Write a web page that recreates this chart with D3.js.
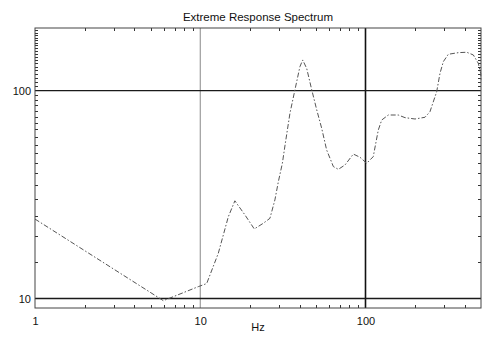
<!DOCTYPE html>
<html>
<head>
<meta charset="utf-8">
<script src="https://cdn.jsdelivr.net/npm/d3@7"></script>
<style>
  html, body { margin: 0; padding: 0; background: #fff; }
  svg { display: block; }
  text { font-family: "Liberation Sans", Arial, sans-serif; fill: #111; }
</style>
</head>
<body>
<svg id="chart" width="483" height="343"></svg>
<script>
// Extreme response spectrum: frequency (Hz) vs response, log-log axes
const freqHz = [1, 5.98, 9.73, 10.94, 11.45, 12.86, 13.79, 14.78, 16.2, 18.66, 21.23, 24.07, 26.4, 28.3, 29.7, 31.4, 32.6, 34.9, 37.4, 40.1, 41.7, 44.1, 47.3, 50.7, 54.3, 58.2, 63.9, 68.5, 75.2, 84.4, 92.6, 101.6, 111.4, 119.5, 125.4, 137.4, 157.9, 173.4, 199.3, 229, 245.5, 269.7, 282.4, 295.7, 317, 364.5, 409.8, 449.2, 481.6, 497.7, 500];
const response = [24.1, 9.76, 11.4, 11.8, 12.97, 16.5, 20.2, 24.7, 29.5, 25.2, 21.6, 23.0, 24.3, 29.8, 36.5, 44.7, 54.7, 77.8, 100.7, 130.3, 140.4, 127.6, 100.7, 80.7, 65.9, 51.8, 43.1, 41.8, 43.9, 49.5, 47.8, 44.7, 48.1, 64.6, 72.2, 76.3, 76.3, 74.1, 73.0, 74.4, 79.1, 98.8, 121.1, 137.7, 149.5, 152.2, 152.9, 148.4, 135.3, 121.1, 113];

const xTickValues = [1, 10, 100];
const xTickLabels = ["1", "10", "100"];
const yTickValues = [10, 100];
const yTickLabels = ["10", "100"];
const xDomain = [1, 500];
const yDomain = [9, 200];
const chartTitle = "Extreme Response Spectrum";
const xAxisTitle = "Hz";

const svg = d3.select("#chart");
const plotLeft = 35, plotRight = 481, plotTop = 28, plotBottom = 308;

const x = d3.scaleLog().domain(xDomain).range([plotLeft, plotRight]);
const y = d3.scaleLog().domain(yDomain).range([plotBottom, plotTop]);

// minor ticks (inside the frame on all four sides)
const xMinor = x.ticks(30).filter(v => !xTickValues.includes(v) && v > xDomain[0] && v < xDomain[1]);
const yMinor = y.ticks(30).filter(v => !yTickValues.includes(v) && v > yDomain[0] && v < yDomain[1]);
const tickLen = 3;
const minor = svg.append("g").attr("stroke", "#333").attr("stroke-width", 1);
xMinor.forEach(v => {
  const px = Math.round(x(v)) + 0.5;
  minor.append("line").attr("x1", px).attr("x2", px).attr("y1", plotBottom).attr("y2", plotBottom - tickLen);
  minor.append("line").attr("x1", px).attr("x2", px).attr("y1", plotTop).attr("y2", plotTop + tickLen);
});
yMinor.forEach(v => {
  const py = Math.round(y(v)) + 0.5;
  minor.append("line").attr("x1", plotLeft).attr("x2", plotLeft + tickLen).attr("y1", py).attr("y2", py);
  minor.append("line").attr("x1", plotRight).attr("x2", plotRight - tickLen).attr("y1", py).attr("y2", py);
});

// decade grid lines
const grid = svg.append("g");
xTickValues.forEach(v => {
  if (v === xDomain[0]) return;
  grid.append("line")
    .attr("x1", x(v)).attr("x2", x(v)).attr("y1", plotTop).attr("y2", plotBottom)
    .attr("stroke", v === 100 ? "#111" : "#888")
    .attr("stroke-width", v === 100 ? 1.6 : 1);
});
yTickValues.forEach(v => {
  grid.append("line")
    .attr("x1", plotLeft).attr("x2", plotRight).attr("y1", y(v)).attr("y2", y(v))
    .attr("stroke", "#1a1a1a").attr("stroke-width", 1.4);
});

// frame
svg.append("rect")
  .attr("x", plotLeft).attr("y", plotTop).attr("width", plotRight - plotLeft).attr("height", plotBottom - plotTop)
  .attr("fill", "none").attr("stroke", "#444").attr("stroke-width", 1);

// tick labels via d3 axes (labels only, no tick lines)
const xAxis = d3.axisBottom(x).tickValues(xTickValues)
  .tickFormat((d, i) => xTickLabels[i]).tickSize(0).tickPadding(9);
svg.append("g").attr("transform", `translate(0,${plotBottom})`).call(xAxis)
  .call(g => g.select(".domain").remove())
  .selectAll("text").attr("font-size", 11).style("font-family", "'Liberation Sans', Arial, sans-serif").attr("fill", "#111");

const yAxis = d3.axisLeft(y).tickValues(yTickValues)
  .tickFormat((d, i) => yTickLabels[i]).tickSize(0).tickPadding(4);
svg.append("g").attr("transform", `translate(${plotLeft},0)`).call(yAxis)
  .call(g => g.select(".domain").remove())
  .selectAll("text").attr("font-size", 11).style("font-family", "'Liberation Sans', Arial, sans-serif").attr("fill", "#111");

// response curve
const pts = freqHz.map((f, i) => [f, response[i]]);
svg.append("path")
  .datum(pts)
  .attr("fill", "none")
  .attr("stroke", "#555")
  .attr("stroke-width", 1)
  .attr("stroke-dasharray", "5,2,1.5,2")
  .attr("d", d3.line().x(d => x(d[0])).y(d => y(d[1])).curve(d3.curveLinear));

// titles
svg.append("text").attr("x", (plotLeft + plotRight) / 2).attr("y", 20.5)
  .attr("text-anchor", "middle").attr("font-size", 11.5).text(chartTitle);
svg.append("text").attr("x", (plotLeft + plotRight) / 2).attr("y", 331)
  .attr("text-anchor", "middle").attr("font-size", 11).text(xAxisTitle);
</script>
</body>
</html>
